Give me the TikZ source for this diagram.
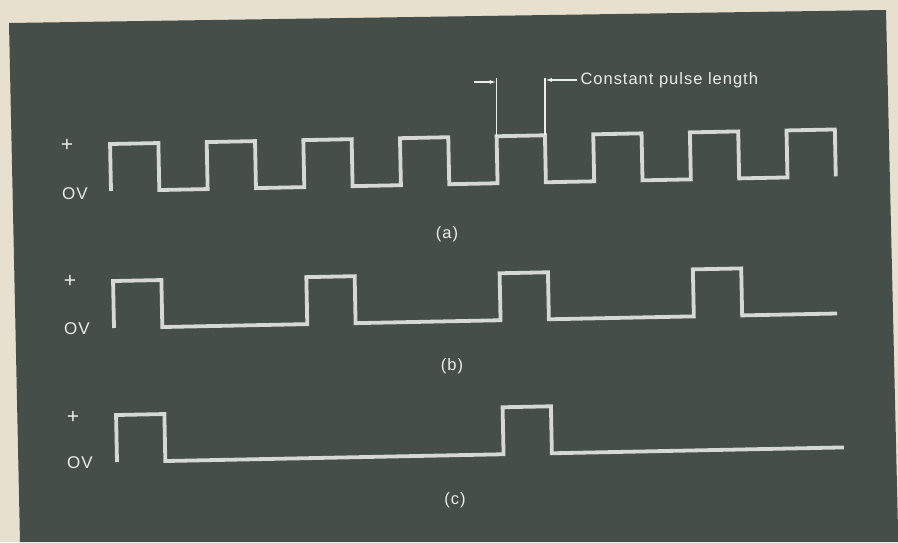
\documentclass[tikz,border=0pt]{standalone}
\usepackage{fontspec}
\setsansfont{Liberation Sans}
\newfontfamily\letterfont[LetterSpace=6]{Liberation Sans}
\usetikzlibrary{arrows.meta}

\definecolor{paper}{RGB}{232,224,206}
\definecolor{panel}{RGB}{70,78,73}
\definecolor{trace}{RGB}{214,216,212}
\definecolor{ink}{RGB}{236,236,232}

\def\hp{48.33}
\def\amp{47}

\begin{document}
\begin{tikzpicture}[x=1pt, y=-1pt,
    wave/.style={trace, line width=3.8pt, line join=miter},
    level/.style={ink, font=\letterfont\fontsize{17}{17}\selectfont},
    sign/.style={ink, font=\letterfont\fontsize{21}{21}\selectfont},
    caption/.style={ink, font=\letterfont\fontsize{16.5}{16.5}\selectfont},
    marker/.style={ink, line width=1.3pt},
    pointer/.style={ink, line width=1.3pt, -{Latex[length=7pt,width=4pt]}}
]
\useasboundingbox (0,0) rectangle (898,542);
\fill[paper] (0,0) rectangle (898,542);
\fill[panel] (9,23) -- (886,10) -- (898,530) -- (898,542) -- (20,542) -- cycle;

% (a) every period
\begin{scope}[shift={(111,191)}, rotate=1.15]
\draw[wave] (0,0) \foreach \k in {1,...,7} { -- ++(0,-\amp) -- ++(\hp,0) -- ++(0,\amp) -- ++(\hp,0) }
    -- ++(0,-\amp) -- ++(\hp,0) -- ++(0,\amp);
\coordinate (lead) at ({8*\hp},{-\amp});
\coordinate (trail) at ({9*\hp},{-\amp});
\end{scope}

% (b) every second period
\begin{scope}[shift={(114,328)}, rotate=1.15]
\draw[wave] (0,0) \foreach \k in {1,...,3} { -- ++(0,-\amp) -- ++(\hp,0) -- ++(0,\amp) -- ++({3*\hp},0) }
    -- ++(0,-\amp) -- ++(\hp,0) -- ++(0,\amp) -- ++(95,0);
\end{scope}

% (c) every fourth period
\begin{scope}[shift={(117,462)}, rotate=1.15]
\draw[wave] (0,0) -- ++(0,-\amp) -- ++(\hp,0) -- ++(0,\amp) -- ++({7*\hp},0)
    -- ++(0,-\amp) -- ++(\hp,0) -- ++(0,\amp) -- ++(292,0);
\end{scope}

\node[sign] (plusa) at (67,145) {+};
\node[level] (zeroa) at (75,194) {OV};
\node[sign] (plusb) at (70,281) {+};
\node[level] (zerob) at (77,329) {OV};
\node[sign] (plusc) at (73,417) {+};
\node[level] (zeroc) at (80,463) {OV};

\node[caption] (capa) at (447,234) {(a)};
\node[caption] (capb) at (452,366) {(b)};
\node[caption] (capc) at (455,500) {(c)};

% pulse length marker
\node[caption, anchor=west] (pulselen) at (577,80) {Constant pulse length};
\coordinate (leadtail) at (474,82);
\draw[marker] (lead) -- (lead |- 0,78);
\draw[marker] (trail) -- (trail |- 0,78);
\draw[pointer] (leadtail) -- (lead |- leadtail);
\draw[pointer] (pulselen.west) -- (trail |- pulselen.west);
\end{tikzpicture}
\end{document}
